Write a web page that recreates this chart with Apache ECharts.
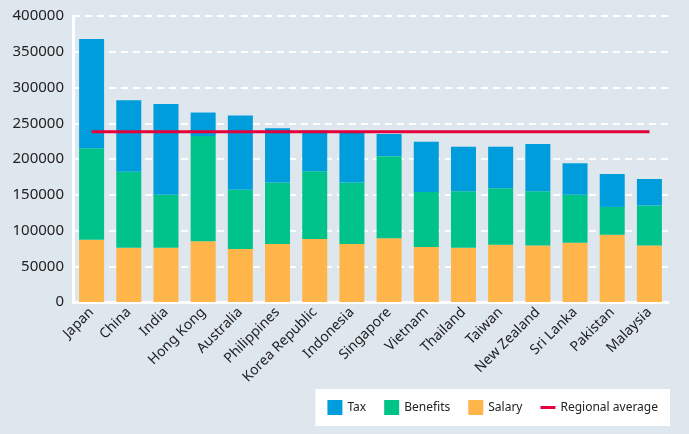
<!DOCTYPE html>
<html>
<head>
<meta charset="utf-8">
<script src="https://cdn.jsdelivr.net/npm/echarts@6/dist/echarts.min.js"></script>
<style>
  html, body { margin: 0; padding: 0; background: #dee6ee; }
  #chart { width: 689px; height: 434px; }
</style>
</head>
<body>
<div id="chart"></div>
<script>
var countries = ['Japan', 'China', 'India', 'Hong Kong', 'Australia', 'Philippines', 'Korea Republic',
    'Indonesia', 'Singapore', 'Vietnam', 'Thailand', 'Taiwan', 'New Zealand', 'Sri Lanka', 'Pakistan', 'Malaysia'];
var salary   = [87000, 76000, 76000, 85000, 74000, 81000, 88000, 81000, 89000, 77000, 76000, 80000, 79000, 83000, 94000, 79000];
var benefits = [128000, 106000, 74000, 147000, 83000, 86000, 95000, 86000, 115000, 77000, 79000, 79000, 76000, 67000, 39000, 56000];
var tax      = [153000, 100000, 127000, 33000, 104000, 76000, 57000, 70000, 31000, 70000, 62000, 58000, 66000, 44000, 46000, 37000];
var regionalAverage = 238000;
var yTicks = [0, 50000, 100000, 150000, 200000, 250000, 300000, 350000, 400000];

var avgLine = [];
for (var i = 0; i < countries.length; i++) {
    avgLine.push(regionalAverage);
}

var myChart = echarts.init(document.getElementById('chart'));

var option = {
    backgroundColor: '#dee6ee',
    textStyle: { fontFamily: 'Noto Sans' },
    animation: false,
    grid: {
        left: 73,
        right: 21,
        top: 16,
        bottom: 132
    },
    legend: {
        right: 19,
        bottom: 8,
        backgroundColor: '#ffffff',
        padding: [11, 12, 11, 12],
        itemWidth: 15,
        itemHeight: 15,
        itemGap: 18,
        itemTextGap: 5,
        textStyle: { color: '#222', fontSize: 12 },
        data: [
            { name: 'Tax', icon: 'rect' },
            { name: 'Benefits', icon: 'rect' },
            { name: 'Salary', icon: 'rect' },
            { name: 'Regional average', icon: 'path://M0,0H20V4H0Z' }
        ]
    },
    xAxis: {
        type: 'category',
        data: countries,
        axisTick: { show: false },
        axisLine: {
            show: true,
            lineStyle: { color: '#ffffff', width: 3 }
        },
        axisLabel: {
            rotate: 45,
            color: '#222',
            fontSize: 14,
            margin: 8,
            interval: 0
        }
    },
    yAxis: {
        type: 'value',
        min: 0,
        max: yTicks[yTicks.length - 1],
        interval: yTicks[1] - yTicks[0],
        axisLine: {
            show: true,
            lineStyle: { color: '#ffffff', width: 3 }
        },
        axisTick: { show: false },
        axisLabel: {
            color: '#222',
            fontSize: 15,
            margin: 9,
            formatter: function (v) { return String(v); }
        },
        splitLine: {
            show: true,
            lineStyle: { color: '#ffffff', type: [7, 5], width: 2 }
        }
    },
    series: [
        {
            name: 'Salary',
            type: 'bar',
            stack: 'total',
            barWidth: 25,
            itemStyle: { color: '#ffb54a' },
            data: salary
        },
        {
            name: 'Benefits',
            type: 'bar',
            stack: 'total',
            barWidth: 25,
            itemStyle: { color: '#00c389' },
            data: benefits
        },
        {
            name: 'Tax',
            type: 'bar',
            stack: 'total',
            barWidth: 25,
            itemStyle: { color: '#009ddc' },
            data: tax
        },
        {
            name: 'Regional average',
            type: 'line',
            showSymbol: false,
            symbol: 'none',
            lineStyle: { color: '#e4003b', width: 3 },
            itemStyle: { color: '#e4003b' },
            data: avgLine,
            z: 5
        }
    ]
};
myChart.setOption(option);
</script>
</body>
</html>
